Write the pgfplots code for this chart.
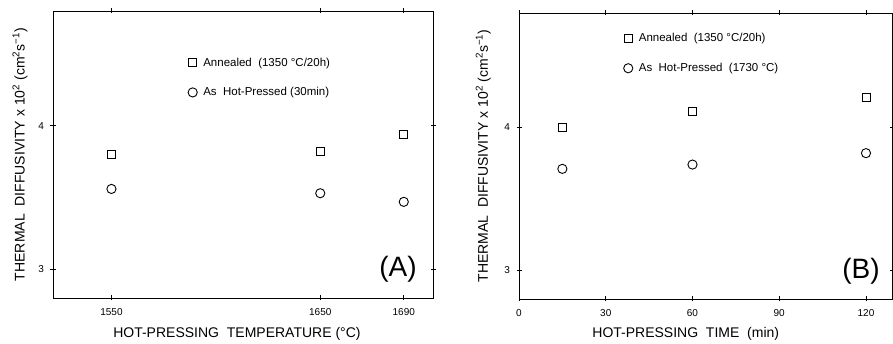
\documentclass[border=0pt]{standalone}
\usepackage{pgfplots}
\pgfplotsset{compat=1.18}
\usepackage{fontspec}
\setmainfont{Liberation Sans}
\begin{document}
\begin{tikzpicture}[x=1pt,y=1pt]
\useasboundingbox (0,0) rectangle (893,344);
\pgfplotsset{
  myax/.style={
    scale only axis, anchor=south west,
    ymin=2.8, ymax=4.8, ytick={3,4},
    axis line style={line width=0.8pt},
    tick style={line width=0.8pt, black},
    major tick length=5pt,
    tick align=center,
    /pgf/number format/assume math mode=true,
    /pgf/number format/1000 sep={},
    ticklabel style={font=\fontsize{10}{11}\selectfont},
    xticklabel style={yshift=-4pt},
    yticklabel style={xshift=-3pt},
    label style={font=\fontsize{14}{15}\selectfont},
    legend cell align=left,
    legend style={draw=none, fill=none, inner sep=0pt, row sep=16pt,
      font=\fontsize{11.5}{13}\selectfont,
      /tikz/every odd column/.append style={column sep=4pt}},
  },
  sq/.style={only marks, mark=square, mark size=4pt, mark options={line width=0.9pt, black}},
  ci/.style={only marks, mark=o, mark size=4.6pt, mark options={line width=0.9pt, black}},
}
\begin{axis}[myax,
  at={(53pt,46pt)}, width=380pt, height=287pt,
  xmin=1522, xmax=1704, xtick={1550,1650,1690},
  xlabel={HOT-PRESSING\ \ TEMPERATURE (°C)},
  ylabel={THERMAL\ \ DIFFUSIVITY x 10\textsuperscript{2} (cm\textsuperscript{2}s\textsuperscript{−1})},
  xlabel style={at={(axis description cs:0.484,-0.125)}, anchor=center},
  ylabel style={at={(axis description cs:-0.087,0.5)}, anchor=center},
  legend style={at={(axis description cs:0.355,0.845)}, anchor=north west},
]
\addplot[sq] coordinates {(1550,3.80) (1650,3.82) (1690,3.94)};
\addlegendentry{Annealed\ \ (1350 °C/20h)}
\addplot[ci] coordinates {(1550,3.56) (1650,3.53) (1690,3.47)};
\addlegendentry{As\ \ Hot-Pressed (30min)}
\node[font=\fontsize{28}{30}\selectfont] at (axis description cs:0.908,0.101) {(A)};
\end{axis}
\begin{axis}[myax,
  at={(519pt,45pt)}, width=373pt, height=286pt,
  xmin=0, xmax=129, xtick={0,30,60,90,120},
  xlabel={HOT-PRESSING\ \ TIME\ \ (min)},
  ylabel={THERMAL\ \ DIFFUSIVITY x 10\textsuperscript{2} (cm\textsuperscript{2}s\textsuperscript{−1})},
  xlabel style={at={(axis description cs:0.447,-0.122)}, anchor=center},
  ylabel style={at={(axis description cs:-0.096,0.5)}, anchor=center},
  legend style={at={(axis description cs:0.280,0.936)}, anchor=north west},
]
\addplot[sq] coordinates {(15,4.00) (60,4.11) (120,4.21)};
\addlegendentry{Annealed\ \ (1350 °C/20h)}
\addplot[ci] coordinates {(15,3.71) (60,3.74) (120,3.82)};
\addlegendentry{As\ \ Hot-Pressed\ \ (1730 °C)}
\node[font=\fontsize{28}{30}\selectfont] at (axis description cs:0.917,0.098) {(B)};
\end{axis}
\end{tikzpicture}
\end{document}
